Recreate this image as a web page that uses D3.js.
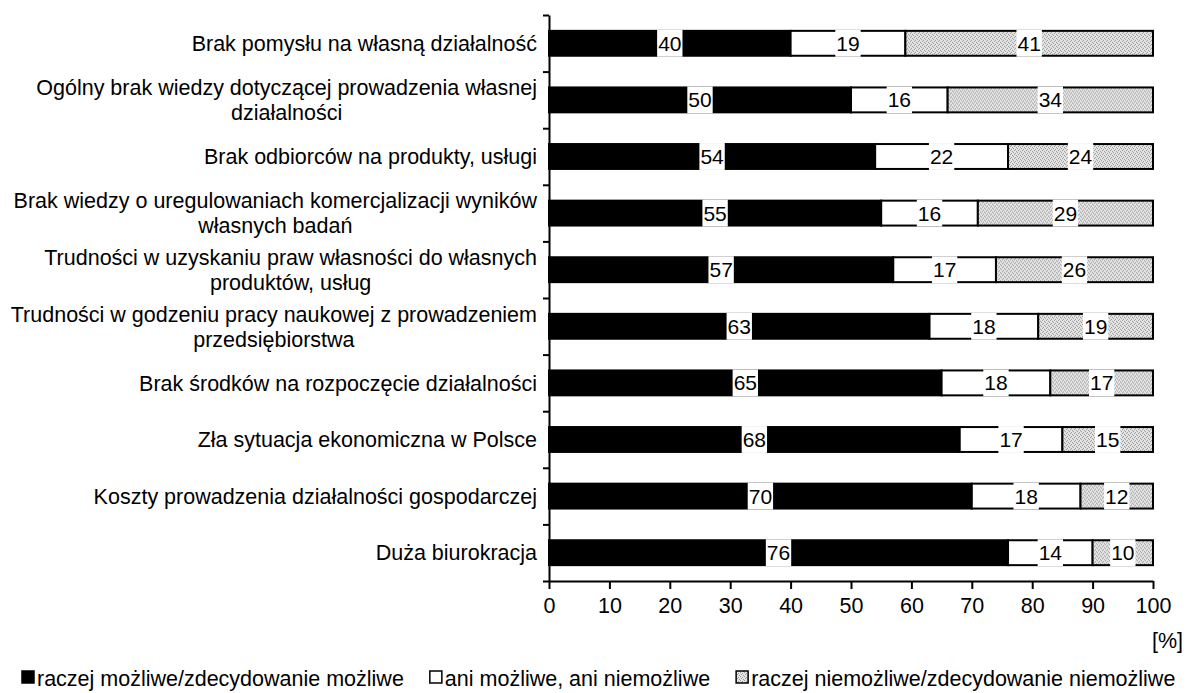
<!DOCTYPE html>
<html>
<head>
<meta charset="utf-8">
<script src="https://cdn.jsdelivr.net/npm/d3@7"></script>
<style>
    body { margin: 0; background: #fff; }
    svg text { font-family: "Liberation Sans", Arial, sans-serif; fill: #000; }
</style>
</head>
<body>
<svg id="chart"></svg>
<script>
const categories = [
    "Brak pomysłu na własną działalność",
    "Ogólny brak wiedzy dotyczącej prowadzenia własnej\ndziałalności",
    "Brak odbiorców na produkty, usługi",
    "Brak wiedzy o uregulowaniach komercjalizacji wyników\nwłasnych badań",
    "Trudności w uzyskaniu praw własności do własnych\nproduktów, usług",
    "Trudności w godzeniu pracy naukowej z prowadzeniem\nprzedsiębiorstwa",
    "Brak środków na rozpoczęcie działalności",
    "Zła sytuacja ekonomiczna w Polsce",
    "Koszty prowadzenia działalności gospodarczej",
    "Duża biurokracja"
];
const possible   = [40, 50, 54, 55, 57, 63, 65, 68, 70, 76];
const neutral    = [19, 16, 22, 16, 17, 18, 18, 17, 18, 14];
const impossible = [41, 34, 24, 29, 26, 19, 17, 15, 12, 10];
const seriesNames = [
    "raczej możliwe/zdecydowanie możliwe",
    "ani możliwe, ani niemożliwe",
    "raczej niemożliwe/zdecydowanie niemożliwe"
];
const xTicks = [0, 10, 20, 30, 40, 50, 60, 70, 80, 90, 100];
const unitLabel = "[%]";

class StackedBarChart {

    constructor( config ) {
        this.config = {
            parent: config.parent,
            width: config.width || 1190,
            height: config.height || 693,
            margin: config.margin || {top:15, right:37, bottom:112, left:549},
            fontSize: config.fontSize || 21.5
        }
        this.init();
    }

    init() {
        let self = this;

        self.svg = d3.select( self.config.parent )
            .attr('width', self.config.width)
            .attr('height', self.config.height);

        // dotted fill for the third series
        let pat = self.svg.append('defs').append('pattern')
            .attr('id', 'dots')
            .attr('width', 4).attr('height', 4)
            .attr('patternUnits', 'userSpaceOnUse');
        pat.append('rect').attr('width', 4).attr('height', 4).attr('fill', '#e4e4e4');
        [[0,0],[2,1],[1,2],[3,3]].forEach(p => {
            pat.append('rect').attr('x', p[0]).attr('y', p[1])
                .attr('width', 1).attr('height', 1).attr('fill', '#999');
        });

        self.chart = self.svg.append('g')
            .attr('transform', `translate(${self.config.margin.left}, ${self.config.margin.top})`);

        self.inner_width = self.config.width - self.config.margin.left - self.config.margin.right;
        self.inner_height = self.config.height - self.config.margin.top - self.config.margin.bottom;

        self.xscale = d3.scaleLinear()
            .domain([0, 100])
            .range([0, self.inner_width]);

        self.yscale = d3.scaleBand()
            .domain(categories)
            .range([0, self.inner_height])
            .paddingInner(0.56)
            .paddingOuter(0.28);

        // category boundaries for the y tick marks
        self.yedge = d3.scaleLinear()
            .domain([0, categories.length])
            .range([0, self.inner_height]);

        self.fills = ['#000', '#fff', 'url(#dots)'];

        self.rows = categories.map((c, i) => {
            const vals = [possible[i], neutral[i], impossible[i]];
            let acc = 0;
            return vals.map((v, k) => {
                const seg = {cat: c, k: k, value: v, x0: acc, x1: acc + v};
                acc += v;
                return seg;
            });
        });

        self.render();
    }

    render() {
        let self = this;
        const bw = self.yscale.bandwidth();
        const fs = self.config.fontSize;

        let rowg = self.chart.selectAll('.row')
            .data(self.rows)
            .join('g')
            .attr('class', 'row')
            .attr('transform', d => `translate(0, ${self.yscale(d[0].cat)})`);

        rowg.selectAll('rect.seg')
            .data(d => d)
            .join('rect')
            .attr('class', 'seg')
            .attr('x', d => self.xscale(d.x0))
            .attr('y', 0)
            .attr('width', d => self.xscale(d.x1) - self.xscale(d.x0))
            .attr('height', bw)
            .attr('fill', d => self.fills[d.k])
            .attr('stroke', '#000')
            .attr('stroke-width', 2);

        // value labels with white boxes
        let lab = rowg.selectAll('g.lab')
            .data(d => d)
            .join('g')
            .attr('class', 'lab')
            .attr('transform', d => `translate(${self.xscale((d.x0 + d.x1) / 2)}, ${bw / 2})`);

        lab.append('rect').attr('fill', '#fff');
        lab.append('text')
            .attr('text-anchor', 'middle')
            .attr('dy', '0.36em')
            .attr('font-size', 21)
            .text(d => d.value);
        lab.each(function() {
            const g = d3.select(this);
            const w = g.select('text').node().getComputedTextLength();
            g.select('rect')
                .attr('x', -w / 2 - 1).attr('y', -bw / 2 - 1)
                .attr('width', w + 2).attr('height', bw + 2);
        });

        // y axis
        self.chart.append('g')
            .call(d3.axisLeft(self.yedge).tickValues(d3.range(categories.length + 1))
                .tickFormat('').tickSize(6).tickSizeOuter(0))
            .call(g => g.selectAll('line, path').attr('stroke', '#000').attr('stroke-width', 2));

        // x axis
        self.chart.append('g')
            .attr('transform', `translate(0, ${self.inner_height})`)
            .call(d3.axisBottom(self.xscale).tickValues(xTicks)
                .tickSize(8).tickSizeOuter(0).tickPadding(9))
            .call(g => g.selectAll('line, path').attr('stroke', '#000').attr('stroke-width', 2))
            .call(g => g.selectAll('text').attr('font-size', fs)
                .attr('font-family', '"Liberation Sans", Arial, sans-serif'));

        // category labels
        let cl = self.chart.append('g').selectAll('text.cat')
            .data(categories)
            .join('text')
            .attr('class', 'cat')
            .attr('font-size', fs);
        cl.each(function(c) {
            const t = d3.select(this);
            const lines = c.split('\n');
            const cy = self.yscale(c) + bw / 2;
            const lh = 25;
            lines.forEach((ln, j) => {
                t.append('tspan')
                    .attr('y', cy + (j - (lines.length - 1) / 2) * lh)
                    .attr('dy', '0.36em')
                    .text(ln);
            });
            let maxw = 0;
            t.selectAll('tspan').each(function() {
                maxw = Math.max(maxw, this.getComputedTextLength());
            });
            t.attr('text-anchor', 'middle');
            t.selectAll('tspan').attr('x', -12 - maxw / 2);
        });

        // unit label
        self.svg.append('text')
            .attr('x', 1183)
            .attr('y', 648)
            .attr('text-anchor', 'end')
            .attr('font-size', fs)
            .text(unitLabel);

        // legend
        let lx = 22;
        const ly = 678;
        seriesNames.forEach((name, k) => {
            self.svg.append('rect')
                .attr('x', lx).attr('y', ly - 7)
                .attr('width', 12).attr('height', 12)
                .attr('fill', self.fills[k])
                .attr('stroke', '#000').attr('stroke-width', 1.5);
            const t = self.svg.append('text')
                .attr('x', lx + 15)
                .attr('y', ly)
                .attr('dy', '0.36em')
                .attr('font-size', fs)
                .text(name);
            lx += 15 + t.node().getComputedTextLength() + 26;
        });
    }
}

new StackedBarChart({ parent: '#chart' });
</script>
</body>
</html>
